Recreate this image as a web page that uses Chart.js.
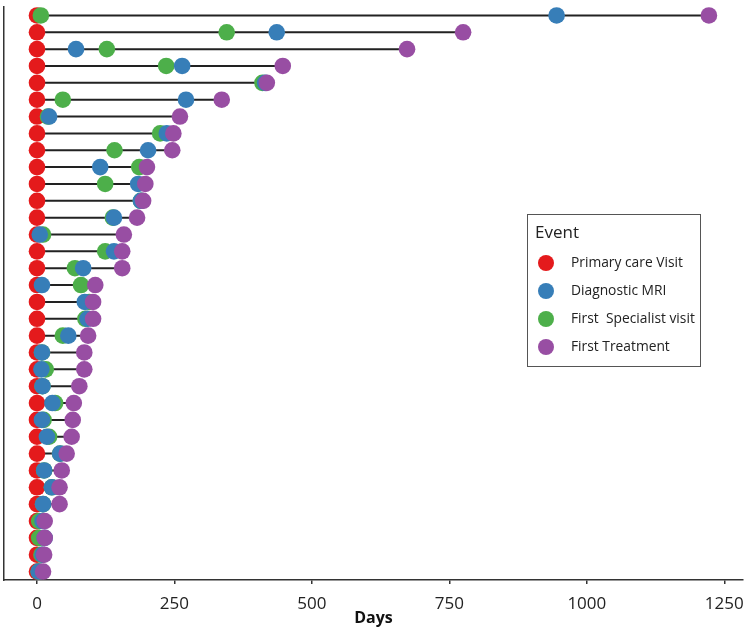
<!DOCTYPE html>
<html>
<head>
<meta charset="utf-8">
<title>Time to treatment</title>
<script src="https://cdn.jsdelivr.net/npm/chart.js@4.4.1/dist/chart.umd.min.js"></script>
<style>
  html, body { margin: 0; padding: 0; background: #fff; }
  #wrap { width: 746px; height: 630px; position: relative; }
</style>
</head>
<body>
<div id="wrap"><canvas id="chart"></canvas></div>
<script>
// one row per patient, top to bottom
const patients = ["P1", "P2", "P3", "P4", "P5", "P6", "P7", "P8", "P9", "P10",
  "P11", "P12", "P13", "P14", "P15", "P16", "P17", "P18", "P19", "P20",
  "P21", "P22", "P23", "P24", "P25", "P26", "P27", "P28", "P29", "P30",
  "P31", "P32", "P33", "P34"];

// days since primary care visit
const primaryCare = [0, 0, 0, 0, 0, 0, 0, 0, 0, 0, 0, 0, 0, 0, 0, 0, 0,
  0, 0, 0, 0, 0, 0, 0, 0, 0, 0, 0, 0, 0, 0, 0, 0, 0];
const diagnosticMri = [945, 436, 71, 264, 415, 271, 22, 236, 202, 115, 184, 189, 140, 5, 140, 84, 9,
  87, 92, 57, 9, 8, 10, 28, 9, 18, 42, 13, 27, 11, 10, 14, 10, 3];
const firstSpecialist = [7, 345, 127, 235, 410, 47, 20, 224, 141, 186, 124, 189, 138, 11, 124, 69, 80,
  95, 88, 47, 9, 16, 10, 33, 12, 22, 42, 13, 27, 11, 4, 4, 8, 3];
const firstTreatment = [1222, 775, 673, 447, 418, 336, 260, 248, 246, 200, 197, 193, 182, 158, 155, 155, 106,
  102, 102, 93, 86, 86, 77, 67, 65, 63, 54, 45, 41, 41, 14, 14, 13, 11];

const xTicks = [0, 250, 500, 750, 1000, 1250];

function points(values) {
  return values.map(function (v, i) { return { x: v, y: patients[i] }; });
}

// one segment per patient from first to last event, broken by gaps
var segments = [];
patients.forEach(function (p, i) {
  var lo = Math.min(primaryCare[i], diagnosticMri[i], firstSpecialist[i], firstTreatment[i]);
  var hi = Math.max(primaryCare[i], diagnosticMri[i], firstSpecialist[i], firstTreatment[i]);
  segments.push({ x: lo, y: p }, { x: hi, y: p }, { x: null, y: null });
});

function eventSet(label, values, color, order) {
  return {
    label: label,
    data: points(values),
    showLine: false,
    pointRadius: 8.3,
    pointHoverRadius: 8.3,
    pointBorderWidth: 0,
    backgroundColor: color,
    borderColor: color,
    order: order,
    clip: false,
    inLegend: true
  };
}

const eventLegend = {
  id: "eventLegend",
  afterDraw: function (chart) {
    var ctx = chart.ctx;
    ctx.save();
    ctx.strokeStyle = "#555";
    ctx.lineWidth = 1;
    ctx.strokeRect(527.5, 214.5, 173, 152);
    ctx.fillStyle = "#222";
    ctx.textBaseline = "middle";
    ctx.font = '17px "Open Sans"';
    ctx.fillText("Event", 535, 233);
    ctx.font = '13.8px "Open Sans"';
    chart.data.datasets.filter(function (d) { return d.inLegend; }).forEach(function (d, i) {
      var y = 263 + i * 28;
      ctx.fillStyle = d.backgroundColor;
      ctx.beginPath();
      ctx.arc(546, y, 8, 0, Math.PI * 2);
      ctx.fill();
      ctx.fillStyle = "#222";
      ctx.fillText(d.label, 571, y);
    });
    ctx.restore();
  }
};

Chart.defaults.font.family = '"Open Sans", sans-serif';

var ctx = document.getElementById("chart").getContext("2d");
var myChart = new Chart(ctx, {
  type: "scatter",
  data: {
    datasets: [
      eventSet("Primary care Visit", primaryCare, "#e41a1c", 4),
      eventSet("Diagnostic MRI", diagnosticMri, "#377eb8", 2),
      eventSet("First  Specialist visit", firstSpecialist, "#4daf4a", 3),
      eventSet("First Treatment", firstTreatment, "#984ea3", 1),
      {
        label: "span",
        data: segments,
        showLine: true,
        spanGaps: false,
        borderColor: "#222",
        borderWidth: 2,
        pointRadius: 0,
        pointHoverRadius: 0,
        order: 5
      }
    ]
  },
  options: {
    responsive: true,
    maintainAspectRatio: false,
    animation: false,
    layout: { autoPadding: false, padding: { top: 7, right: 3, left: 0, bottom: 0 } },
    plugins: {
      legend: { display: false },
      tooltip: { enabled: false }
    },
    scales: {
      x: {
        type: "linear",
        min: -60,
        max: 1284,
        afterBuildTicks: function (scale) {
          scale.ticks = xTicks.map(function (v) { return { value: v }; });
        },
        grid: { drawOnChartArea: false, drawTicks: true, tickLength: 4, color: "#333", lineWidth: 1.5 },
        border: { display: true, color: "#333", width: 1.5 },
        ticks: {
          font: { size: 17 },
          color: "#222",
          padding: 10,
          callback: function (v) { return String(v); }
        },
        title: {
          display: true,
          text: "Days",
          font: { size: 16, weight: "bold" },
          color: "#111",
          padding: { top: 0, bottom: 2 }
        },
        afterFit: function (scale) {
          scale.height = 50;
          scale.paddingLeft = 0;
          scale.paddingRight = 0;
        }
      },
      y: {
        type: "category",
        labels: patients,
        offset: true,
        grid: { display: false },
        ticks: { display: false },
        border: { display: true, color: "#333", width: 1.5 },
        afterFit: function (scale) { scale.width = 4; }
      }
    }
  },
  plugins: [eventLegend]
});
</script>
</body>
</html>
